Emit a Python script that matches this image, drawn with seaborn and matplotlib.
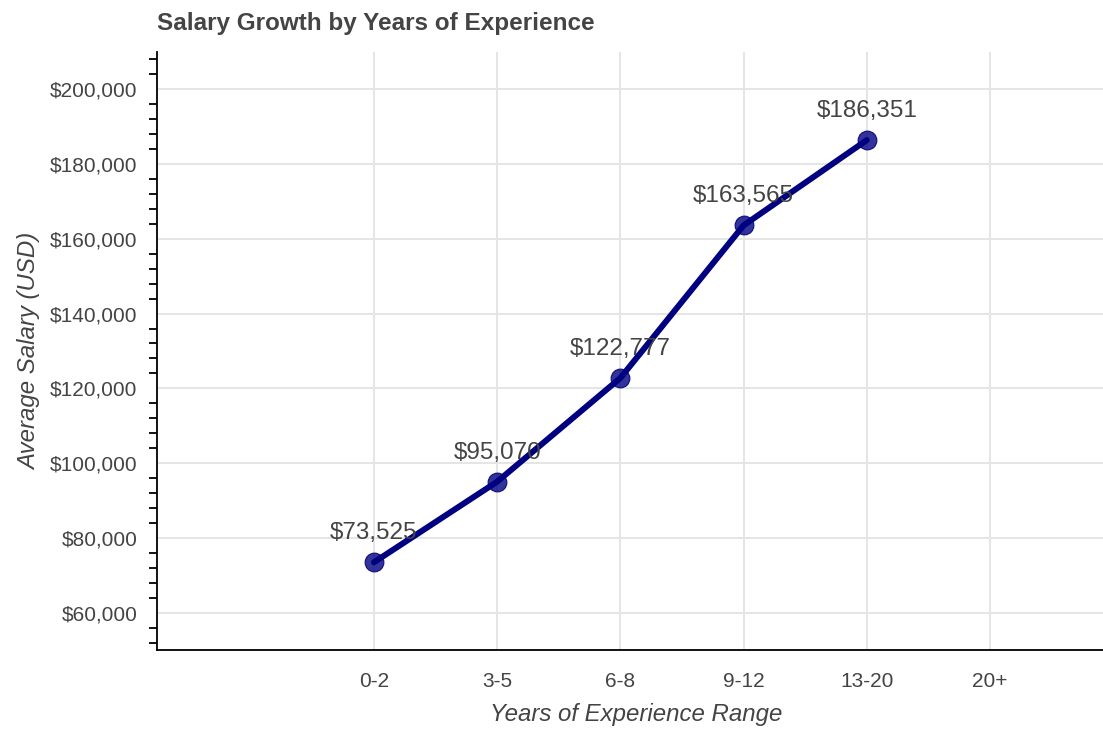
import matplotlib
matplotlib.use("Agg")
import matplotlib.pyplot as plt
from matplotlib.ticker import MultipleLocator, FuncFormatter
import numpy as np
import seaborn as sns

# Experience buckets and average salary per bucket (20+ has no data)
experience_ranges = ["0-2", "3-5", "6-8", "9-12", "13-20", "20+"]
avg_salary = [73525, 95070, 122777, 163565, 186351, np.nan]

sns.set_style("white")
plt.rcParams["font.family"] = ["Liberation Sans", "DejaVu Sans"]

TEXT = "#444444"
NAVY = "#000080"

fig = plt.figure(figsize=(11.03, 7.29), dpi=100)
ax = fig.add_axes([0.1423, 0.1084, 0.8577, 0.8203])

positions = np.arange(len(experience_ranges))
sns.lineplot(
    x=positions, y=avg_salary, ax=ax, color=NAVY, linewidth=4.3,
    marker="o", markersize=13.5, markerfacecolor=(0.0, 0.0, 0.5, 0.8),
    markeredgecolor=(0.0, 0.0, 0.5, 0.9), markeredgewidth=0.8, zorder=3,
)

for xpos, val in zip(positions, avg_salary):
    if np.isnan(val):
        continue
    ax.annotate(f"${val:,.0f}", (xpos, val), xytext=(0, 16.5),
                textcoords="offset points", ha="center", va="baseline",
                fontsize=17.5, color=TEXT, zorder=4)

ax.set_xlim(-1.761, 5.917)
ax.set_ylim(50100, 209900)
ax.set_xticks(positions)
ax.set_xticklabels(experience_ranges)
ax.yaxis.set_major_locator(MultipleLocator(20000))
ax.yaxis.set_minor_locator(MultipleLocator(4000))
ax.yaxis.set_major_formatter(FuncFormatter(lambda v, _: f"${v:,.0f}"))

ax.grid(True, which="major", color="#e5e5e5", linewidth=1.4, zorder=0)
ax.set_axisbelow(True)

for side in ("top", "right"):
    ax.spines[side].set_visible(False)
for side in ("left", "bottom"):
    ax.spines[side].set_color("black")
    ax.spines[side].set_linewidth(1.3)

ax.tick_params(axis="both", which="major", direction="out", length=8,
               width=1.3, color="black", labelsize=15, labelcolor=TEXT, pad=6)
ax.tick_params(axis="x", which="major", pad=8)
ax.tick_params(axis="y", which="minor", direction="out", length=5.5,
               width=1.3, color="black", left=True)
ax.tick_params(axis="x", which="minor", bottom=False)

ax.set_xlabel("Years of Experience Range", fontsize=17.3, fontstyle="italic",
              color=TEXT)
ax.set_ylabel("Average Salary (USD)", fontsize=17.3, fontstyle="italic",
              color=TEXT)
# Axis label centres placed in pixel terms relative to the plot frame
ax.xaxis.set_label_coords((636 - 157) / 946, -(715 - 650) / 598,
                          transform=ax.transAxes)
ax.xaxis.label.set_va("center")
ax.yaxis.set_label_coords(-(157 - 30) / 946, 0.5, transform=ax.transAxes)
ax.yaxis.label.set_va("center")
ax.set_title("Salary Growth by Years of Experience", loc="left",
             fontsize=17.5, fontweight="bold", color=TEXT, pad=15.5)

fig.savefig("out.png", dpi=100)
